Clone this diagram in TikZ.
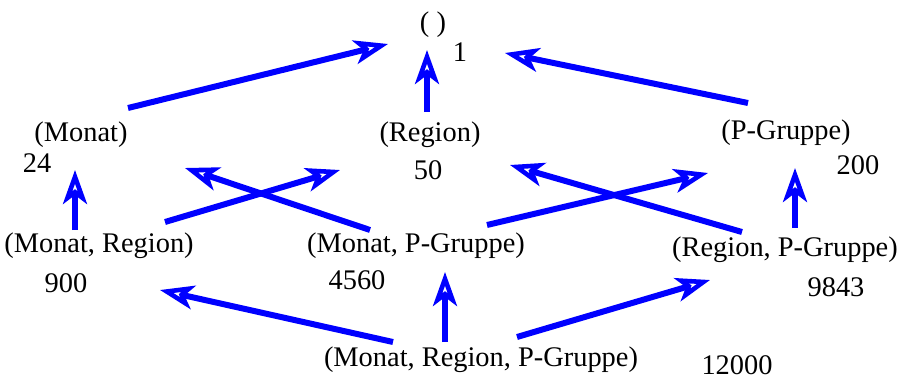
\documentclass[tikz,border=0pt]{standalone}
\usepackage{fontspec}
\setmainfont{Liberation Serif}
\usepackage{tikz}
\usetikzlibrary{
	arrows.meta,
	positioning,
	calc
}
\usepackage{xcolor}

\begin{document}
\begin{tikzpicture}[
		x=0.5pt,y=-0.5pt,
		>={Stealth[open,length=17pt,width=12pt,inset=4.5pt,line width=2.3pt,fill=white]},
		cube/.style={
			inner sep=0pt,
			font=\fontsize{14.2}{17}\selectfont
		},
		count/.style={
			inner sep=0pt,
			font=\fontsize{14.2}{17}\selectfont
		},
		edge/.style={
			->,
			draw=blue,
			line width=3pt
		}
		]
		\useasboundingbox (0,0) rectangle (900,380);
		
		% Level 0
		\node[cube] (top) at (433,25) {( )};
		\node[count] (ntop) at (460,52) {1};
		
		% Level 1
		\node[cube] (monat) at (81,135) {(Monat)};
		\node[count] (nmonat) at (37,163) {24};
		\node[cube] (region) at (430,135) {(Region)};
		\node[count] (nregion) at (428,170) {50};
		\node[cube] (pgruppe) at (786,133) {(P-Gruppe)};
		\node[count] (npgruppe) at (858,165) {200};
		
		% Level 2
		\node[cube] (monreg) at (99,246) {(Monat, Region)};
		\node[count] (nmonreg) at (66,283) {900};
		\node[cube] (monpg) at (416,246) {(Monat, P-Gruppe)};
		\node[count] (nmonpg) at (357,280) {4560};
		\node[cube] (regpg) at (785,250) {(Region, P-Gruppe)};
		\node[count] (nregpg) at (836,287) {9843};
		
		% Level 3
		\node[cube] (all) at (481,360) {(Monat, Region, P-Gruppe)};
		\node[count] (nall) at (737,365) {12000};
		
		% Connections
		\foreach \a/\ax/\ay/\b/\bx/\by in {
			monat/47/-27/top/-45/19,
			region/-3/-23/top/-6/25,
			pgruppe/-38/-30/top/72/28,
			monreg/-24/-16/monat/-6/35,
			monreg/66/-24/region/-90/35,
			monpg/-46/-16/monat/104/33,
			monpg/71/-21/pgruppe/-78/40,
			regpg/-43/-18/region/80/30,
			regpg/10/-22/pgruppe/9/35,
			all/-88/-18/monreg/61/44,
			all/-36/-18/monpg/29/26,
			all/36/-23/regpg/-75/30}
		{
			\draw[edge]
			([shift={(\ax,\ay)}]\a.center)
			-- ([shift={(\bx,\by)}]\b.center);
		}
		
	\end{tikzpicture}
\end{document}
